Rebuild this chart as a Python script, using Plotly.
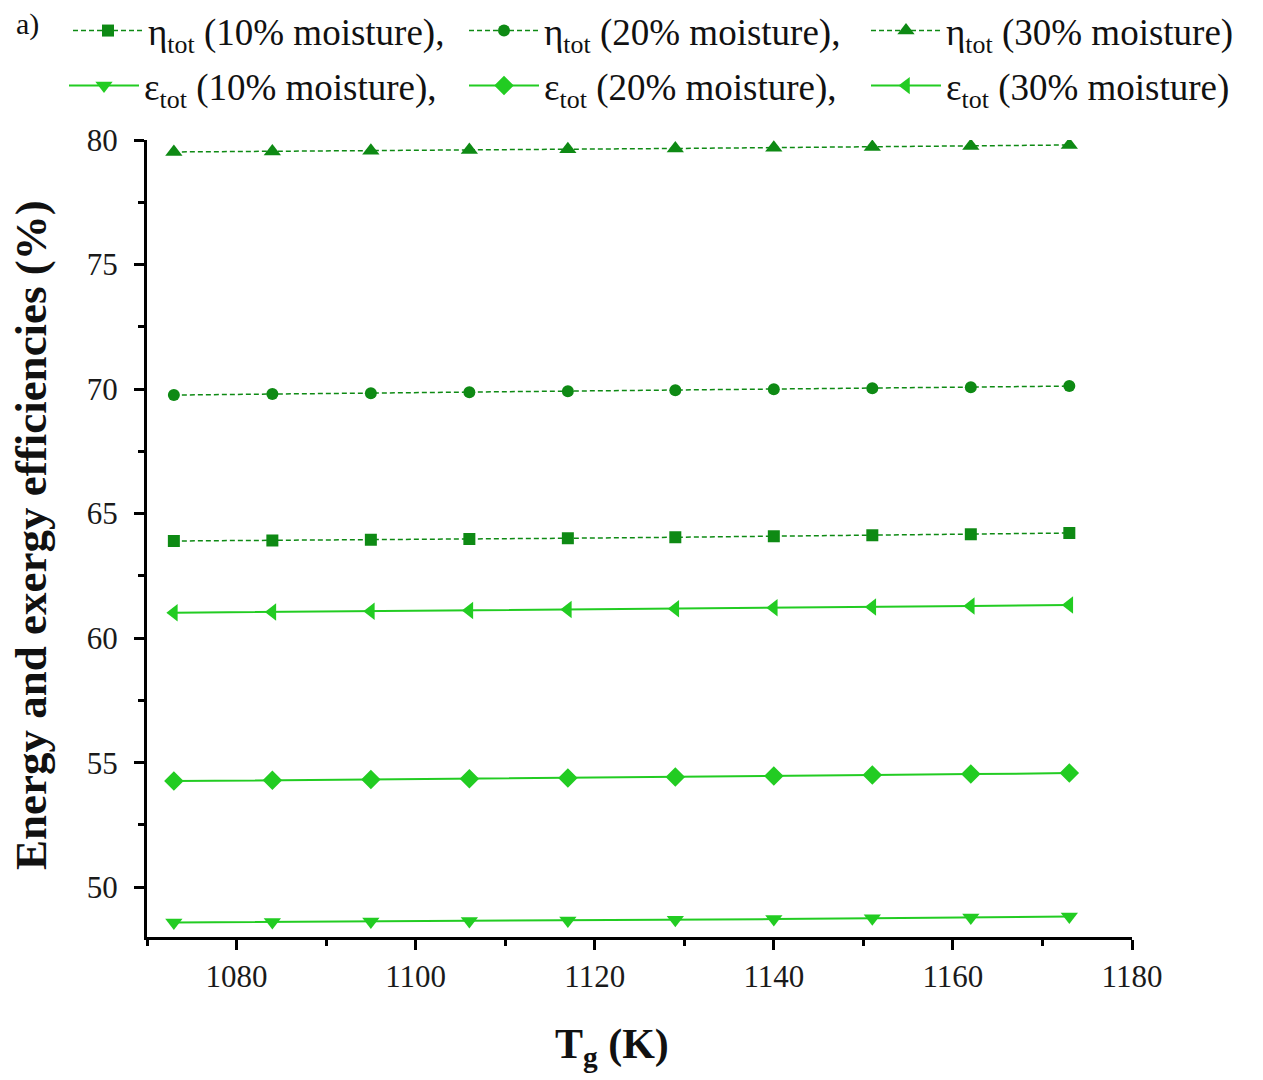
import plotly.graph_objects as go

# Gasifier temperature (K)
temperature_k = [1073, 1084, 1095, 1106, 1117, 1129, 1140, 1151, 1162, 1173]

# Total energy efficiency (%) for each moisture content
eta_10 = [63.90, 63.92, 63.95, 63.98, 64.01, 64.05, 64.09, 64.13, 64.17, 64.22]
eta_20 = [69.76, 69.80, 69.83, 69.87, 69.91, 69.95, 69.99, 70.03, 70.07, 70.12]
eta_30 = [79.52, 79.54, 79.57, 79.60, 79.63, 79.66, 79.69, 79.72, 79.76, 79.80]

# Total exergy efficiency (%) for each moisture content
eps_10 = [48.58, 48.60, 48.62, 48.64, 48.66, 48.69, 48.72, 48.75, 48.78, 48.82]
eps_20 = [54.26, 54.29, 54.32, 54.35, 54.38, 54.42, 54.46, 54.50, 54.54, 54.58]
eps_30 = [61.02, 61.05, 61.08, 61.11, 61.15, 61.18, 61.22, 61.25, 61.29, 61.33]

series_names = [
    "η<sub>tot</sub> (10% moisture),",
    "η<sub>tot</sub> (20% moisture),",
    "η<sub>tot</sub> (30% moisture)",
    "ε<sub>tot</sub> (10% moisture),",
    "ε<sub>tot</sub> (20% moisture),",
    "ε<sub>tot</sub> (30% moisture)",
]

DARK_GREEN = "#0e8a14"
LIGHT_GREEN = "#22cc22"
SERIF = "Liberation Serif, Times New Roman, serif"

W, H = 1263, 1080
ML, MR, MT, MB = 147, 131, 140, 143
PW, PH = W - ML - MR, H - MT - MB


def px_to_paper(px, py):
    return (px - ML) / PW, (H - MB - py) / PH


series = [
    (eta_10, "square", 12, DARK_GREEN, "5px,3px", 1.5),
    (eta_20, "circle", 12, DARK_GREEN, "5px,3px", 1.5),
    (eta_30, "triangle-up", 15, DARK_GREEN, "5px,3px", 1.5),
    (eps_10, "triangle-down", 15, LIGHT_GREEN, "solid", 2),
    (eps_20, "diamond", 15, LIGHT_GREEN, "solid", 2),
    (eps_30, "triangle-left", 15, LIGHT_GREEN, "solid", 2),
]

fig = go.Figure()
for i, (vals, sym, size, color, dash, lw) in enumerate(series):
    fig.add_trace(go.Scatter(
        x=temperature_k, y=vals, name=series_names[i],
        mode="lines+markers",
        line=dict(color=color, width=lw, dash=dash),
        marker=dict(symbol=sym, size=size, color=color),
        legend="legend" if i == 0 else f"legend{i + 1}",
    ))

# One legend per entry, arranged in two rows of three
legend_px = [(68, -4), (464, -4), (866, -4), (64, 55), (464, 55), (866, 55)]
legend_common = dict(
    xref="container", yref="container", xanchor="left", yanchor="top",
    bgcolor="rgba(0,0,0,0)", itemwidth=70,
    font=dict(family=SERIF, size=37, color="#111111"),
)
layout_legends = {}
for i, (px, py) in enumerate(legend_px):
    key = "legend" if i == 0 else f"legend{i + 1}"
    layout_legends[key] = dict(legend_common, x=px / W, y=1 - py / H)

axis_common = dict(
    showline=True, linecolor="black", linewidth=3, mirror=False,
    ticks="outside", ticklen=10, tickwidth=3, tickcolor="black",
    showgrid=False, zeroline=False,
    tickfont=dict(family=SERIF, size=31, color="#1a1a1a"),
)

ytitle_x, ytitle_y = px_to_paper(31, 535)
xtitle_x, xtitle_y = px_to_paper(612, 1047)
tag_x, tag_y = px_to_paper(14, 24)

fig.update_layout(
    width=W, height=H,
    margin=dict(l=ML, r=MR, t=MT, b=MB, autoexpand=False),
    plot_bgcolor="white", paper_bgcolor="white",
    showlegend=True,
    xaxis=dict(axis_common, range=[1070, 1180], tickvals=[1080, 1100, 1120, 1140, 1160, 1180],
               ticklabelstandoff=0,
               minor=dict(ticks="outside", ticklen=6, tickwidth=3, tickcolor="black", dtick=10, tick0=1070)),
    yaxis=dict(axis_common, range=[48, 80], tickvals=[50, 55, 60, 65, 70, 75, 80],
               ticklabelstandoff=10,
               minor=dict(ticks="outside", ticklen=6, tickwidth=3, tickcolor="black", dtick=2.5, tick0=50)),
    annotations=[
        dict(text="<b>Energy and exergy efficiencies (%)</b>", textangle=-90,
             xref="paper", yref="paper", x=ytitle_x, y=ytitle_y, xanchor="center", yanchor="middle",
             showarrow=False, font=dict(family=SERIF, size=45, color="#111111")),
        dict(text="<b>T<sub>g</sub> (K)</b>",
             xref="paper", yref="paper", x=xtitle_x, y=xtitle_y, xanchor="center", yanchor="middle",
             showarrow=False, font=dict(family=SERIF, size=42, color="#111111")),
        dict(text="a)", xref="paper", yref="paper", x=tag_x, y=tag_y,
             xanchor="left", yanchor="middle", showarrow=False,
             font=dict(family=SERIF, size=30, color="#111111")),
    ],
    **layout_legends,
)

fig.write_html("out.html")
